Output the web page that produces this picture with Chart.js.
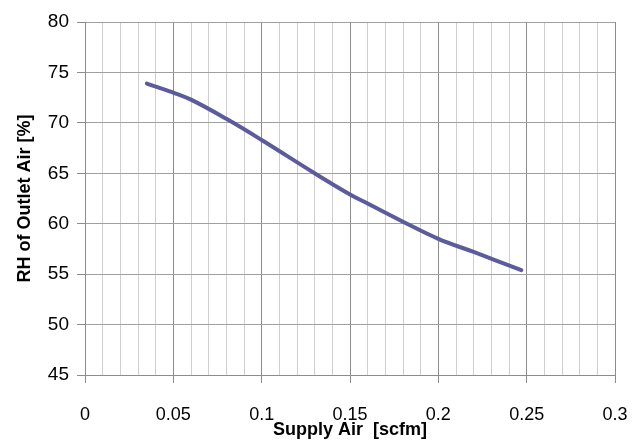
<!DOCTYPE html>
<html>
<head>
<meta charset="utf-8">
<script src="https://cdn.jsdelivr.net/npm/chart.js@4/dist/chart.umd.min.js"></script>
<style>
  html, body { margin: 0; padding: 0; background: #fff; }
  #wrap { width: 641px; height: 442px; }
</style>
</head>
<body>
<div id="wrap"><canvas id="grafico"></canvas></div>
<script>
// Dados
const supplyAir = [0.035, 0.05, 0.06, 0.08, 0.1, 0.13, 0.15, 0.16, 0.18, 0.2, 0.22, 0.247];
const rhOutlet = [73.9, 73.0, 72.3, 70.4, 68.3, 65.0, 62.9, 62.0, 60.2, 58.5, 57.2, 55.4];
const xTicks = [0, 0.05, 0.1, 0.15, 0.2, 0.25, 0.3];
const yTicks = [45, 50, 55, 60, 65, 70, 75, 80];

const pontos = supplyAir.map((x, i) => ({ x: x, y: rhOutlet[i] }));

// ticks principais em 0.05, secundários a cada 0.01
const ehPrincipal = (v) => xTicks.some(t => Math.abs(t - v) < 1e-9);

const ctx = document.getElementById('grafico').getContext('2d');
new Chart(ctx, {
    type: 'scatter',
    data: {
        datasets: [{
            data: pontos,
            showLine: true,
            borderColor: '#5c5c9c',
            borderWidth: 4,
            pointRadius: 0,
            tension: 0.4,
            borderCapStyle: 'round'
        }]
    },
    options: {
        responsive: true,
        maintainAspectRatio: false,
        animation: false,
        layout: { padding: { top: 22, right: 26, left: 0, bottom: 0 } },
        plugins: { legend: { display: false }, tooltip: { enabled: false } },
        scales: {
            x: {
                type: 'linear',
                min: xTicks[0],
                max: xTicks[xTicks.length - 1],
                afterFit: (s) => { s.height = 67; s.paddingRight = 0; },
                ticks: {
                    stepSize: 0.01,
                    autoSkip: false,
                    maxRotation: 0,
                    padding: 21,
                    color: '#000',
                    font: { family: 'Liberation Sans', size: 18 },
                    callback: (v) => ehPrincipal(v) ? String(Math.round(v * 100) / 100) : ''
                },
                grid: {
                    color: (c) => ehPrincipal(c.tick.value) ? '#8c8c8c' : '#cfcfcf',
                    tickColor: (c) => ehPrincipal(c.tick.value) ? '#8c8c8c' : 'rgba(0,0,0,0)',
                    tickLength: 8,
                    lineWidth: 1
                },
                border: { color: '#8c8c8c' },
                title: {
                    display: true,
                    text: 'Supply Air  [scfm]',
                    color: '#000',
                    font: { family: 'Liberation Sans', size: 18, weight: 'bold' },
                    padding: { top: 0, bottom: 1 }
                }
            },
            y: {
                min: yTicks[0],
                max: yTicks[yTicks.length - 1],
                afterFit: (s) => { s.width = 85; },
                ticks: {
                    stepSize: 5,
                    padding: 8,
                    color: '#000',
                    font: { family: 'Liberation Sans', size: 19 }
                },
                grid: {
                    color: '#a0a0a0',
                    tickColor: '#8c8c8c',
                    tickLength: 8
                },
                border: { color: '#8c8c8c' },
                title: {
                    display: true,
                    text: 'RH of Outlet Air [%]',
                    color: '#000',
                    font: { family: 'Liberation Sans', size: 18, weight: 'bold' },
                    padding: { top: 14, bottom: 0 }
                }
            }
        }
    }
});
</script>
</body>
</html>
